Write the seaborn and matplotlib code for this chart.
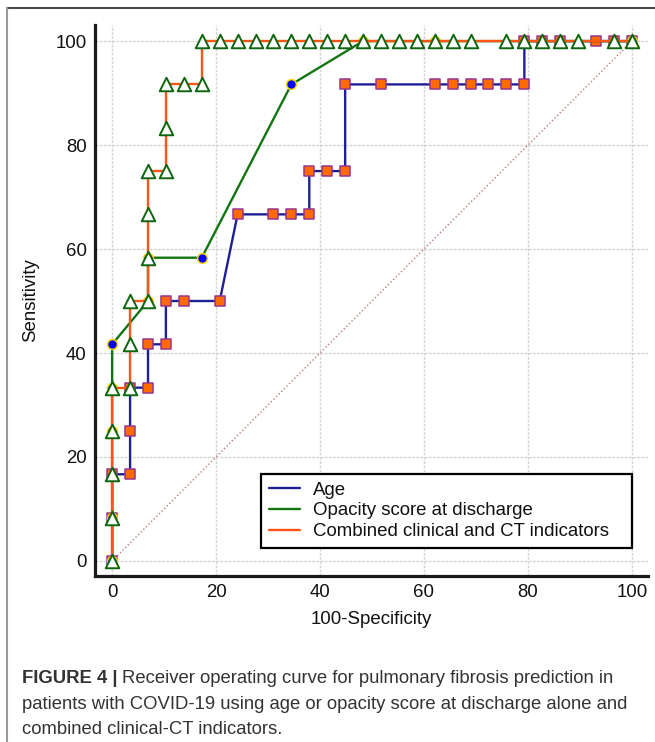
import matplotlib
matplotlib.use("Agg")
import matplotlib.pyplot as plt
from matplotlib.lines import Line2D
import seaborn as sns

# ROC points (100-Specificity %, Sensitivity %)
age_fpr = [0, 0, 0, 3.45, 3.45, 3.45, 6.90, 6.90, 10.34, 10.34, 13.79, 20.69,
           24.14, 31.03, 34.48, 37.93, 37.93, 41.38, 44.83, 44.83, 51.72, 62.07,
           65.52, 68.97, 72.41, 75.86, 79.31, 79.31, 82.76, 86.21, 93.10, 96.55, 100]
age_sens = [0, 8.33, 16.67, 16.67, 25, 33.33, 33.33, 41.67, 41.67, 50, 50, 50,
            66.67, 66.67, 66.67, 66.67, 75, 75, 75, 91.67, 91.67, 91.67,
            91.67, 91.67, 91.67, 91.67, 91.67, 100, 100, 100, 100, 100, 100]

opac_fpr = [0, 0, 0, 0, 0, 6.90, 6.90, 17.24, 34.48, 48.28, 62.07, 100]
opac_sens = [0, 8.33, 25, 33.33, 41.67, 50, 58.33, 58.33, 91.67, 100, 100, 100]

comb_fpr = [0, 0, 0, 0, 0, 3.45, 3.45, 3.45, 6.90, 6.90, 6.90, 6.90,
            10.34, 10.34, 10.34, 13.79, 17.24, 17.24, 20.69, 24.14, 27.59, 31.03,
            34.48, 37.93, 41.38, 44.83, 48.28, 51.72, 55.17, 58.62, 62.07, 65.52,
            68.97, 75.86, 79.31, 82.76, 86.21, 89.66, 96.55, 100]
comb_sens = [0, 8.33, 16.67, 25, 33.33, 33.33, 41.67, 50, 50, 58.33, 66.67, 75,
             75, 83.33, 91.67, 91.67, 91.67, 100, 100, 100, 100, 100,
             100, 100, 100, 100, 100, 100, 100, 100, 100, 100,
             100, 100, 100, 100, 100, 100, 100, 100]

labels = ["Age", "Opacity score at discharge", "Combined clinical and CT indicators"]
ticks = [0, 20, 40, 60, 80, 100]
FS = 13.4

sns.set_style("white")
plt.rcParams["font.family"] = ["Liberation Sans", "DejaVu Sans"]

fig = plt.figure(figsize=(6.55, 7.42), dpi=100)
ax = fig.add_axes([95 / 655, 1 - 576 / 742, 553 / 655, 551 / 742])

# chance line
ax.plot([0, 100], [0, 100], ls=":", color="#c07a7a", lw=1.0, zorder=1)

sns.lineplot(x=age_fpr, y=age_sens, sort=False, estimator=None, color="#1e1e96",
             lw=1.7, label=labels[0], ax=ax, zorder=2)
sns.scatterplot(x=age_fpr, y=age_sens, marker="s", s=60, color="#ff6a00",
                edgecolor="#98358f", linewidth=1.1, ax=ax, zorder=3, clip_on=False)

sns.lineplot(x=opac_fpr, y=opac_sens, sort=False, estimator=None, color="#127512",
             lw=1.7, label=labels[1], ax=ax, zorder=4)
sns.scatterplot(x=opac_fpr, y=opac_sens, marker="o", s=50, color="#0000ff",
                edgecolor="#ffd400", linewidth=1.1, ax=ax, zorder=5, clip_on=False)

# trailing spaces give the wider right padding of the original legend box
sns.lineplot(x=comb_fpr, y=comb_sens, sort=False, estimator=None, color="#ff5515",
             lw=1.7, label=labels[2] + "   ", ax=ax, zorder=6)
sns.scatterplot(x=comb_fpr, y=comb_sens, marker="^", s=95, color="white",
                edgecolor="#0d650d", linewidth=1.4, ax=ax, zorder=7, clip_on=False)

ax.set_xlim(-3.3, 103.1)
ax.set_ylim(-2.9, 103.1)
ax.set_xticks(ticks)
ax.set_yticks(ticks)
ax.set_xticks(range(0, 101, 5), minor=True)
ax.set_yticks(range(0, 101, 5), minor=True)
ax.grid(False, which="minor")
ax.grid(True, which="major", color="#d4d4d4", ls=(0, (2, 1)), lw=1.0)
ax.set_axisbelow(True)

for side in ["top", "right"]:
    ax.spines[side].set_visible(False)
for side in ["left", "bottom"]:
    ax.spines[side].set_linewidth(2.3)
    ax.spines[side].set_color("#1a1a1a")

ax.tick_params(which="major", direction="in", length=9.5, width=1.6,
               color="#1a1a1a", labelsize=FS, labelcolor="#111111", pad=6)
ax.tick_params(which="minor", direction="in", length=5, width=1.3, color="#1a1a1a")

ax.set_xlabel("100-Specificity", fontsize=FS, color="#111111", labelpad=7)
ax.set_ylabel("Sensitivity", fontsize=FS, color="#111111", labelpad=12)

leg = ax.legend(loc="lower right", bbox_to_anchor=(0.9706, 0.0508),
                borderaxespad=0, fontsize=FS, frameon=True, fancybox=False,
                framealpha=1, edgecolor="black", handlelength=1.7,
                labelspacing=0.2, borderpad=0.42, handletextpad=0.65)
leg.get_frame().set_linewidth(1.6)
for t in leg.get_texts():
    t.set_color("#111111")

# page frame lines
fig.add_artist(Line2D([7 / 655, 1], [1 - 8 / 742, 1 - 8 / 742],
                      transform=fig.transFigure, color="#4a4a4a", lw=1.5))
fig.add_artist(Line2D([7 / 655, 7 / 655], [1 - 8 / 742, 0],
                      transform=fig.transFigure, color="#9a9a9a", lw=1.5))

# caption
cap_color = "#333333"
CFS = 13.3
t1 = fig.text(22 / 655, 1 - 683 / 742, "FIGURE 4 |", fontsize=CFS,
              fontweight="bold", color=cap_color, va="baseline")
fig.canvas.draw()
bb = t1.get_window_extent(fig.canvas.get_renderer())
fig.text(bb.x1 / fig.bbox.width + 4 / 655, 1 - 683 / 742,
         "Receiver operating curve for pulmonary fibrosis prediction in",
         fontsize=CFS, color=cap_color, va="baseline")
fig.text(22 / 655, 1 - 709 / 742,
         "patients with COVID-19 using age or opacity score at discharge alone and",
         fontsize=CFS, color=cap_color, va="baseline")
fig.text(22 / 655, 1 - 734 / 742, "combined clinical-CT indicators.",
         fontsize=CFS, color=cap_color, va="baseline")

fig.savefig("out.png", dpi=100)
